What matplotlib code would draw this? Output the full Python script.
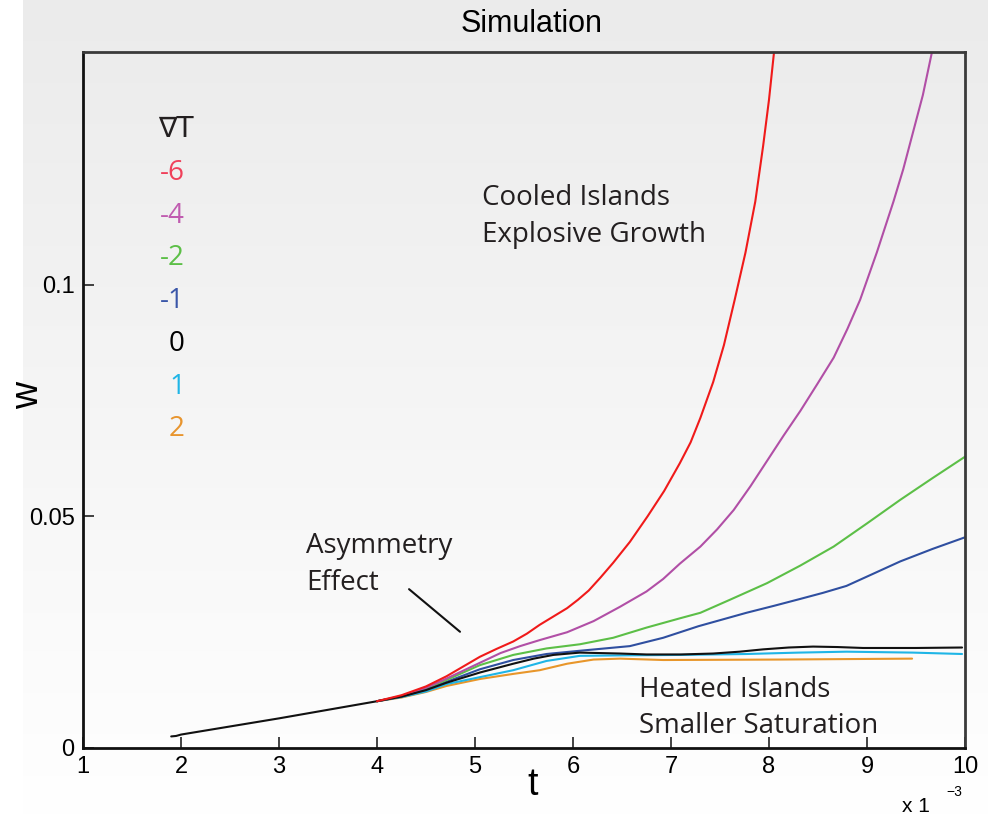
import numpy as np
import matplotlib
matplotlib.use("Agg")
import matplotlib.pyplot as plt

# ---------------- data (t in units of 1e-3) ----------------
t_black = [1.90, 1.95, 2.0, 3.0, 4.0, 4.25, 4.5, 4.71, 5.05, 5.39, 5.60, 5.80, 6.07, 6.48, 6.75, 7.10, 7.43, 7.70, 7.94, 8.20, 8.45, 8.70, 8.96, 9.50, 9.97]
w_black = [0.0025, 0.0026, 0.0029, 0.0064, 0.0101, 0.0111, 0.0125, 0.0141, 0.0163, 0.0182, 0.0193, 0.0201, 0.0206, 0.0204, 0.0202, 0.0202, 0.0204, 0.0208, 0.0213, 0.0217, 0.0219, 0.0218, 0.0216, 0.0216, 0.0217]

t_red = [4.0, 4.25, 4.5, 4.71, 4.88, 5.05, 5.22, 5.39, 5.53, 5.66, 5.80, 5.94, 6.05, 6.16, 6.28, 6.41, 6.58, 6.76, 6.93, 7.09, 7.20, 7.30, 7.43, 7.54, 7.65, 7.76, 7.86, 7.94, 8.00, 8.05, 8.10]
w_red = [0.0101, 0.0114, 0.0133, 0.0155, 0.0176, 0.0197, 0.0214, 0.0230, 0.0247, 0.0266, 0.0284, 0.0302, 0.0320, 0.0340, 0.0368, 0.0400, 0.0445, 0.0500, 0.0555, 0.0615, 0.0660, 0.0713, 0.0790, 0.0870, 0.0968, 0.1070, 0.1180, 0.1300, 0.1400, 0.1500, 0.1600]

t_mag = [4.0, 4.25, 4.5, 4.71, 5.05, 5.26, 5.46, 5.66, 5.94, 6.21, 6.48, 6.75, 6.92, 7.09, 7.30, 7.47, 7.64, 7.81, 7.98, 8.15, 8.32, 8.49, 8.66, 8.80, 8.93, 9.10, 9.27, 9.37, 9.47, 9.57, 9.66, 9.72]
w_mag = [0.0101, 0.0112, 0.0130, 0.0150, 0.0184, 0.0205, 0.0220, 0.0233, 0.0250, 0.0274, 0.0305, 0.0338, 0.0365, 0.0398, 0.0435, 0.0472, 0.0514, 0.0565, 0.0620, 0.0675, 0.0728, 0.0785, 0.0843, 0.0905, 0.0968, 0.1070, 0.1180, 0.1250, 0.1330, 0.1410, 0.1500, 0.1560]

t_green = [4.0, 4.25, 4.5, 4.71, 5.05, 5.39, 5.73, 6.07, 6.41, 6.75, 7.09, 7.30, 7.60, 7.98, 8.32, 8.66, 9.00, 9.34, 9.67, 10.0]
w_green = [0.0101, 0.0112, 0.0129, 0.0147, 0.0179, 0.0201, 0.0215, 0.0224, 0.0238, 0.0260, 0.0280, 0.0292, 0.0320, 0.0356, 0.0394, 0.0435, 0.0485, 0.0536, 0.0583, 0.0629]

t_blue = [4.0, 4.25, 4.5, 4.71, 5.05, 5.39, 5.73, 6.07, 6.58, 6.92, 7.28, 7.77, 8.05, 8.32, 8.55, 8.79, 9.05, 9.34, 9.67, 10.0]
w_blue = [0.0101, 0.0111, 0.0127, 0.0143, 0.0170, 0.0190, 0.0203, 0.0210, 0.0220, 0.0238, 0.0263, 0.0292, 0.0307, 0.0322, 0.0335, 0.0350, 0.0375, 0.0403, 0.0430, 0.0455]

t_cyan = [4.0, 4.25, 4.5, 4.71, 5.05, 5.39, 5.73, 6.07, 6.48, 7.09, 7.77, 8.30, 8.79, 9.47, 9.97]
w_cyan = [0.0101, 0.0110, 0.0122, 0.0138, 0.0153, 0.0168, 0.0188, 0.0199, 0.0200, 0.0201, 0.0203, 0.0206, 0.0208, 0.0206, 0.0203]

t_orange = [4.0, 4.25, 4.5, 4.71, 5.05, 5.39, 5.66, 5.94, 6.21, 6.48, 6.92, 8.11, 9.46]
w_orange = [0.0101, 0.0109, 0.0121, 0.0134, 0.0149, 0.0160, 0.0168, 0.0182, 0.0191, 0.0193, 0.0190, 0.0191, 0.0193]

grad_labels = ["-6", "-4", "-2", "-1", "0", "1", "2"]
label_colors = ["#f0405a", "#c05cb0", "#5cbf47", "#3a56a8", "#000000", "#1fb5e6", "#e8952e"]
line_colors = {"red": "#f01a1a", "mag": "#b14fa6", "green": "#5cbf47", "blue": "#2f4fa0",
               "black": "#111111", "cyan": "#1fb5e6", "orange": "#e8962a"}

x_ticks = [1, 2, 3, 4, 5, 6, 7, 8, 9, 10]
y_ticks = [0, 0.05, 0.1]
y_ticklabels = ["0", "0.05", "0.1"]

# ---------------- figure ----------------
W, H = 994, 817
fig = plt.figure(figsize=(W / 100, H / 100), dpi=100, facecolor="white")

# gradient background panel
bg = fig.add_axes([23 / W, 0, (988 - 23) / W, 1], zorder=-10)
grad = np.linspace(235, 255, 256).reshape(-1, 1) / 255.0
bg.imshow(np.dstack([grad, grad, grad]), aspect="auto", extent=[0, 1, 1, 0])
bg.set_axis_off()

ax = fig.add_axes([83 / W, (H - 748) / H, (965 - 83) / W, (748 - 52) / H])
ax.set_facecolor("none")

lw = 1.5
kw = dict(lw=lw, solid_joinstyle="round", solid_capstyle="round")
ax.plot(t_orange, w_orange, color=line_colors["orange"], **kw)
ax.plot(t_cyan, w_cyan, color=line_colors["cyan"], **kw)
ax.plot(t_blue, w_blue, color=line_colors["blue"], **kw)
ax.plot(t_green, w_green, color=line_colors["green"], **kw)
ax.plot(t_mag, w_mag, color=line_colors["mag"], **kw)
ax.plot(t_black, w_black, color=line_colors["black"], **kw)
ax.plot(t_red, w_red, color=line_colors["red"], **kw)

ax.set_xlim(1, 10)
ax.set_ylim(0, 0.1503)

tick_font = dict(family=["Liberation Sans", "DejaVu Sans"], size=17)
ax.set_xticks(x_ticks)
ax.set_xticklabels([str(v) for v in x_ticks], **tick_font)
ax.set_yticks(y_ticks)
ax.set_yticklabels(y_ticklabels, **tick_font)
ax.tick_params(axis="both", direction="in", length=8, width=1.2, color="#222222",
               top=False, right=False)
ax.tick_params(axis="x", pad=6)
ax.tick_params(axis="y", pad=6)
for side in ["left", "bottom"]:
    ax.spines[side].set_color("#111111")
    ax.spines[side].set_linewidth(2)
for side in ["top", "right"]:
    ax.spines[side].set_color("#3a3a3a")
    ax.spines[side].set_linewidth(2)

lab_font = ["Liberation Sans", "DejaVu Sans"]
fig.text(532 / W, 1 - 24 / H, "Simulation", ha="center", va="center",
         fontsize=22, family=lab_font)
fig.text(533 / W, 1 - 785 / H, "t", ha="center", va="center", fontsize=27, family=lab_font)
fig.text(28 / W, 1 - 395 / H, "w", ha="center", va="center", fontsize=27,
         rotation=90, family=lab_font)
fig.text(902 / W, 1 - 806 / H, "x 1", ha="left", va="center", fontsize=15, family=lab_font)
fig.text(946 / W, 1 - 792 / H, "\u22123", ha="left", va="center", fontsize=10, family=lab_font)

ann_font = ["Open Sans", "DejaVu Sans"]
ann_size = 20
fig.text(482 / W, 1 - 205 / H, "Cooled Islands", ha="left", va="baseline",
         fontsize=ann_size, family=ann_font, color="#231f20")
fig.text(482 / W, 1 - 242 / H, "Explosive Growth", ha="left", va="baseline",
         fontsize=ann_size, family=ann_font, color="#231f20")
fig.text(306 / W, 1 - 553 / H, "Asymmetry", ha="left", va="baseline",
         fontsize=ann_size, family=ann_font, color="#231f20")
fig.text(306 / W, 1 - 590 / H, "Effect", ha="left", va="baseline",
         fontsize=ann_size, family=ann_font, color="#231f20")
fig.text(639 / W, 1 - 697 / H, "Heated Islands", ha="left", va="baseline",
         fontsize=ann_size, family=ann_font, color="#231f20")
fig.text(639 / W, 1 - 733 / H, "Smaller Saturation", ha="left", va="baseline",
         fontsize=ann_size, family=ann_font, color="#231f20")

# pointer line for the asymmetry effect
ax.annotate("", xy=(4.847, 0.0251), xytext=(4.327, 0.0343),
            arrowprops=dict(arrowstyle="-", color="#111111", lw=1.5,
                            shrinkA=0, shrinkB=0))

# gradient legend
fig.text(176 / W, 1 - 129 / H, "\u2207T", ha="center", va="center",
         fontsize=20, family=["DejaVu Sans"], color="#231f20")
for i, (lab, col) in enumerate(zip(grad_labels, label_colors)):
    y = 173 + i * 42.7
    fig.text(185 / W, 1 - y / H, lab, ha="right", va="center",
             fontsize=20, family=ann_font, color=col)

fig.savefig("out.png", dpi=100, facecolor="white")
